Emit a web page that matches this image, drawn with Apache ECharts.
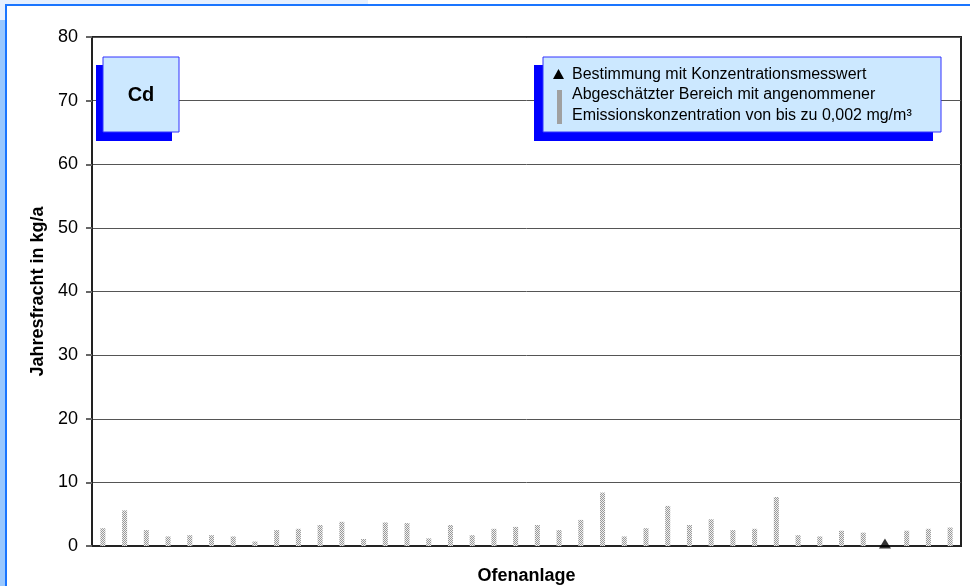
<!DOCTYPE html>
<html><head><meta charset="utf-8">
<script src="https://cdn.jsdelivr.net/npm/echarts@6/dist/echarts.min.js"></script>
<style>html,body{margin:0;padding:0;background:#fff}#c{width:970px;height:586px}</style>
</head><body><div id="c"></div>
<script>
const categories = ['1','2','3','4','5','6','7','8','9','10','11','12','13','14','15','16','17','18','19','20',
  '21','22','23','24','25','26','27','28','29','30','31','32','33','34','35','36','37','38','39','40'];
// upper end of estimated range (kg/a)
const rangeMax = [2.8,5.6,2.5,1.5,1.7,1.7,1.5,0.7,2.5,2.7,3.3,3.8,1.1,3.7,3.6,1.2,3.3,1.7,2.7,3.0,
  3.3,2.5,4.1,8.4,1.5,2.8,6.3,3.3,4.2,2.5,2.7,7.7,1.7,1.5,2.4,2.1,'-',2.4,2.7,2.9];
// determined from measured concentration
const measured = ['-','-','-','-','-','-','-','-','-','-','-','-','-','-','-','-','-','-','-','-',
  '-','-','-','-','-','-','-','-','-','-','-','-','-','-','-','-',0.4,'-','-','-'];
const yTicks = {min:0, max:80, interval:10};
const legendLines = ['Bestimmung mit Konzentrationsmesswert','Abgeschätzter Bereich mit angenommener','Emissionskonzentration von bis zu 0,002 mg/m³'];
const FONT = '"Liberation Sans", Arial, sans-serif';

const pc = document.createElement('canvas'); pc.width = 2; pc.height = 2;
const g = pc.getContext('2d');
g.fillStyle = '#f0f0f0'; g.fillRect(0,0,2,2);
g.fillStyle = '#999999'; g.fillRect(0,0,1,1); g.fillRect(1,1,1,1);

const chart = echarts.init(document.getElementById('c'), null, {renderer:'canvas'});
chart.setOption({
  backgroundColor:'#ffffff',
  animation:false,
  grid:{left:92, right:9, top:37, bottom:40, containLabel:false, outerBoundsMode:'none',
    show:true, borderColor:'#222', borderWidth:2, backgroundColor:'transparent'},
  xAxis:{type:'category', data:categories, name:'Ofenanlage', nameLocation:'middle', nameGap:21,
    nameTextStyle:{fontFamily:FONT, fontSize:18, fontWeight:'bold', color:'#000'},
    axisLine:{show:true, lineStyle:{color:'#222', width:2}}, axisTick:{show:false}, axisLabel:{show:false}},
  yAxis:{type:'value', min:yTicks.min, max:yTicks.max, interval:yTicks.interval,
    name:'Jahresfracht in kg/a', nameLocation:'middle', nameGap:45,
    nameTextStyle:{fontFamily:FONT, fontSize:18, fontWeight:'bold', color:'#000'},
    axisLine:{show:true, lineStyle:{color:'#222', width:2}},
    axisTick:{show:true, length:6, lineStyle:{color:'#666', width:2}},
    axisLabel:{fontFamily:FONT, fontSize:18, color:'#000', margin:14},
    splitLine:{show:true, lineStyle:{color:'#555', width:1}}},
  series:[
    {type:'bar', data:rangeMax, barWidth:5, itemStyle:{color:{image:pc, repeat:'repeat'}}, z:3},
    {type:'scatter', data:measured, symbol:'triangle', symbolSize:[12,10], itemStyle:{color:'#000'}, z:4}
  ],
  graphic:[
    {type:'rect', z:-10, shape:{x:0,y:0,width:368,height:20}, style:{fill:'#e6f0ff'}},
    {type:'rect', z:-10, shape:{x:0,y:20,width:6,height:566}, style:{fill:'#99c8ff'}},
    {type:'rect', z:-9, shape:{x:6,y:5,width:970,height:590}, style:{fill:'#ffffff', stroke:'#1a75ff', lineWidth:2}},
    // Cd box
    {type:'rect', z:100, shape:{x:96,y:65,width:76,height:76}, style:{fill:'#0000ff'}},
    {type:'rect', z:101, shape:{x:103,y:57,width:76,height:75}, style:{fill:'#cce8ff', stroke:'#3333ff', lineWidth:1}},
    {type:'text', z:102, x:141, y:95, style:{text:'Cd', fontFamily:FONT, fontSize:20, fontWeight:'bold', fill:'#000', align:'center', verticalAlign:'middle'}},
    // legend box
    {type:'rect', z:100, shape:{x:534,y:65,width:399,height:76}, style:{fill:'#0000ff'}},
    {type:'rect', z:101, shape:{x:543,y:57,width:398,height:75}, style:{fill:'#cce8ff', stroke:'#3333ff', lineWidth:1}},
    {type:'polygon', z:102, shape:{points:[[558.5,69],[553,79],[564,79]]}, style:{fill:'#000'}},
    {type:'rect', z:102, shape:{x:557,y:90,width:5,height:34}, style:{fill:'#a0a0a0'}},
    {type:'text', z:102, x:572, y:75, style:{text:legendLines[0], fontFamily:FONT, fontSize:16, fill:'#000', verticalAlign:'middle'}},
    {type:'text', z:102, x:572, y:95, style:{text:legendLines[1], fontFamily:FONT, fontSize:16, fill:'#000', verticalAlign:'middle'}},
    {type:'text', z:102, x:572, y:116, style:{text:legendLines[2], fontFamily:FONT, fontSize:16, fill:'#000', verticalAlign:'middle'}}
  ]
});
</script></body></html>
